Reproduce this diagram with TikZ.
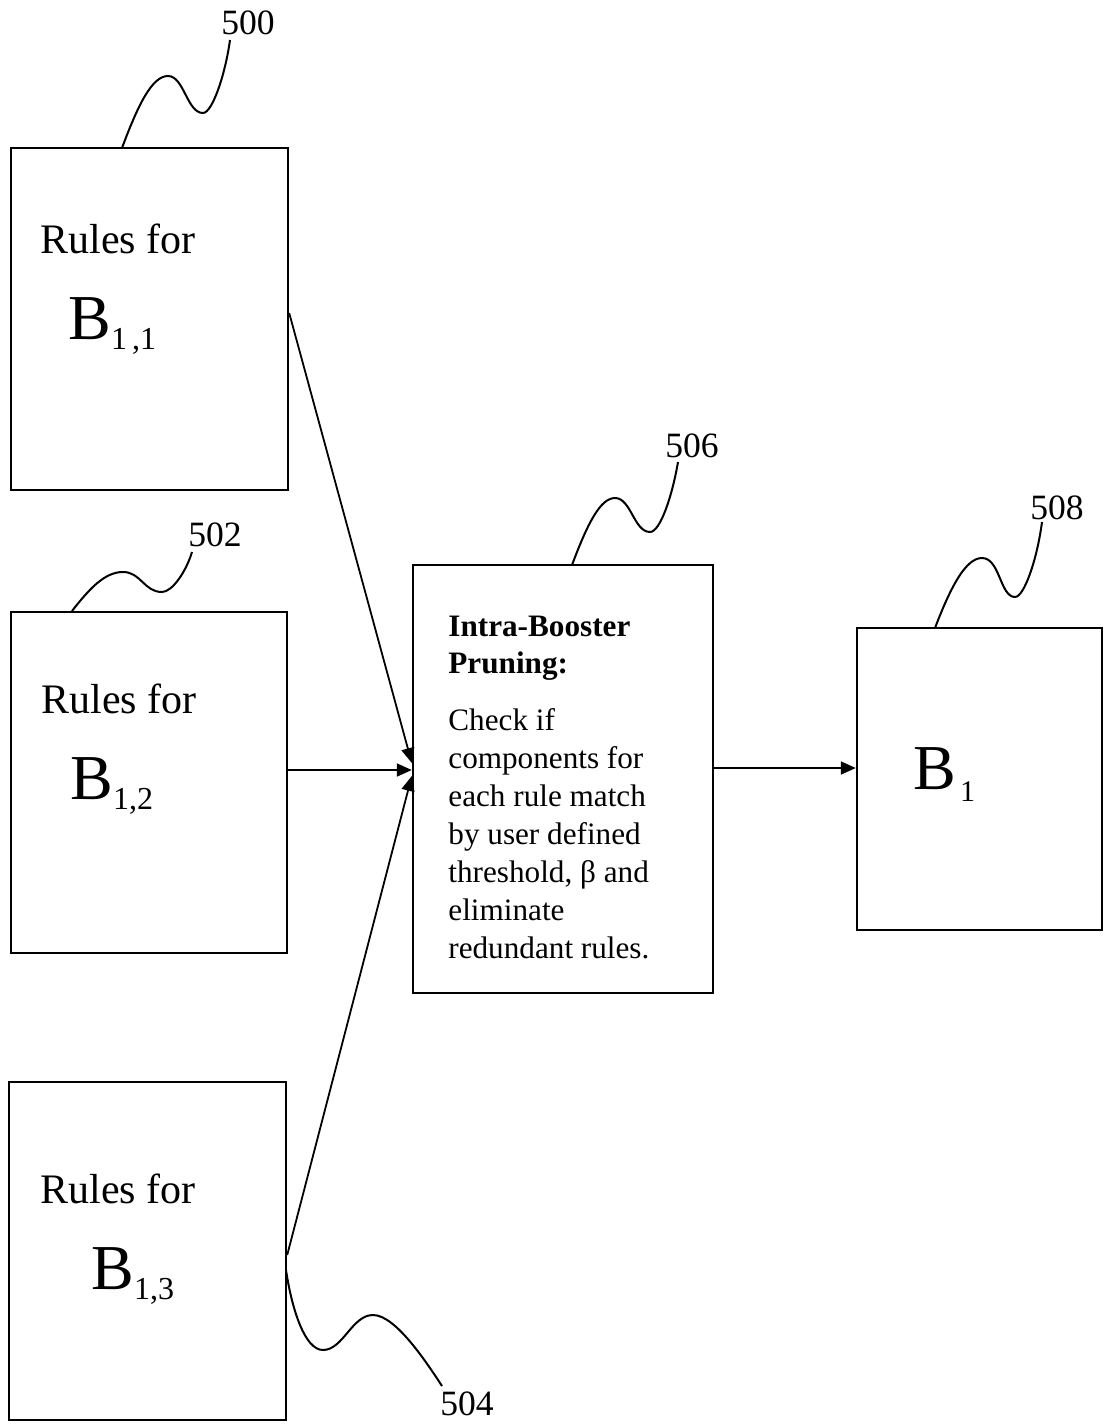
\documentclass[tikz,border=0pt]{standalone}
\usepackage{fontspec}
\setmainfont{Liberation Serif}
\usetikzlibrary{arrows.meta}
\begin{document}
\begin{tikzpicture}[x=0.5pt,y=-0.5pt,
  box/.style={draw,line width=1.2pt,inner sep=0pt,minimum width=#1},
  box/.default=100pt,
  txt/.style={inner sep=0pt,anchor=base west},
  rulesfont/.style={font=\fontsize{21}{25}\selectfont},
  refnum/.style={inner sep=0pt,font=\fontsize{17.8}{20}\selectfont},
  flow/.style={line width=0.9pt,-{Triangle[length=7.5pt,width=6.5pt]}},
  leader/.style={line width=1pt}]
\useasboundingbox (0,0) rectangle (1104,1424);

% rule boxes and the pruning and result boxes
\node[box=138.5pt,minimum height=171pt]   (r1) at (149.5,319) {};
\node[box=138pt,minimum height=170.5pt]   (r2) at (149,782.5) {};
\node[box=138.5pt,minimum height=169pt]   (r3) at (147.5,1251) {};
\node[box=150pt,minimum height=214pt]     (prune) at (563,779) {};
\node[box=122.5pt,minimum height=151pt]   (b1) at (979.5,779) {};

% box texts
\node[txt,rulesfont] (t1) at (40,253) {Rules for};
\node[txt] (s1) at (68,339) {\fontsize{32}{32}\selectfont B\raisebox{-5pt}{\fontsize{16}{16}\selectfont 1\hspace{2.5pt},1}};
\node[txt,rulesfont] (t2) at (41,713) {Rules for};
\node[txt] (s2) at (70,799) {\fontsize{32}{32}\selectfont B\raisebox{-5pt}{\fontsize{16}{16}\selectfont 1,2}};
\node[txt,rulesfont] (t3) at (40,1203) {Rules for};
\node[txt] (s3) at (91,1289) {\fontsize{32}{32}\selectfont B\raisebox{-5pt}{\fontsize{16}{16}\selectfont 1,3}};
\node[txt] (s4) at (913,789) {\fontsize{32}{32}\selectfont B\hspace{2pt}\raisebox{-6pt}{\fontsize{15}{15}\selectfont 1}};

\node[txt] (head) at (448,636) {\parbox[t]{140pt}{\fontsize{15.6}{18.5}\selectfont\bfseries
  Intra-Booster\\Pruning:}};
\node[txt] (body) at (448,730) {\parbox[t]{140pt}{\fontsize{15.6}{19}\selectfont
  Check if\\components for\\each rule match\\by user defined\\threshold, β and\\eliminate\\redundant rules.}};

% reference numerals
\node[refnum] (n500) at (248,23) {500};
\node[refnum] (n502) at (215,535) {502};
\node[refnum] (n506) at (692,446) {506};
\node[refnum] (n508) at (1057,508) {508};
\node[refnum] (n504) at (467,1404) {504};

% leader lines
\draw[leader] (122,148) .. controls (138,105) and (152,76) .. (168,76)
  .. controls (184,76) and (187,113) .. (203,113)
  .. controls (212,113) and (225,76) .. (230,40);
\draw[leader] (72,611) .. controls (90,588) and (105,572) .. (123,572)
  .. controls (141,572) and (144,592) .. (162,592)
  .. controls (172,592) and (186,572) .. (192,552);
\draw[leader] (572,565) .. controls (587,525) and (600,498) .. (615,498)
  .. controls (631,498) and (634,532) .. (650,532)
  .. controls (660,532) and (672,497) .. (678,462);
\draw[leader] (935,628) .. controls (951,586) and (966,558) .. (982,558)
  .. controls (1000,558) and (1000,597) .. (1015,597)
  .. controls (1024,597) and (1037,560) .. (1042,522);
\draw[leader] (286,1270) .. controls (292,1310) and (305,1350) .. (323,1350)
  .. controls (343,1350) and (352,1315) .. (373,1315)
  .. controls (395,1315) and (425,1360) .. (442,1386);

% flow arrows
\draw[flow] ([yshift=3pt]r1.east) -- ([yshift=8pt]prune.west);
\draw[flow] ([yshift=6.25pt]r2.east) -- ([yshift=4.5pt]prune.west);
\draw[flow] ([yshift=-2pt]r3.east) -- ([yshift=1.5pt]prune.west);
\draw[flow] ([yshift=5.5pt]prune.east) -- ([yshift=5.5pt]b1.west);
\end{tikzpicture}
\end{document}
